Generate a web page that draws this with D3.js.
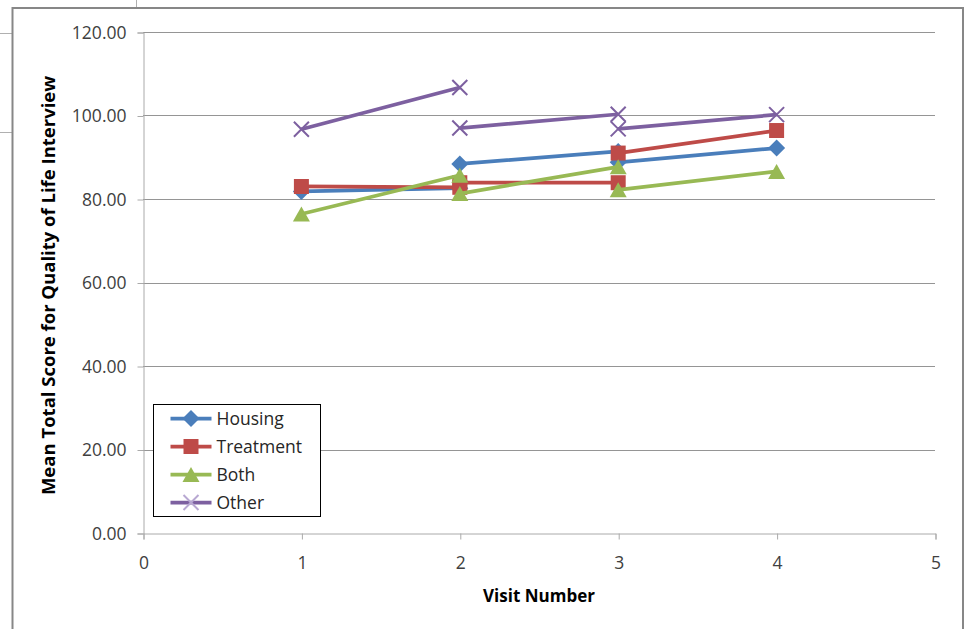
<!DOCTYPE html>
<html>
<head>
<meta charset="utf-8">
<script src="https://cdn.jsdelivr.net/npm/d3@7"></script>
<style>
  body { margin: 0; background: #fff; }
  svg { display: block; font-family: "Open Sans", "Noto Sans", sans-serif; }
</style>
</head>
<body>
<div id="chart"></div>
<script>
// Each series is three separate visit-to-visit segments (null = gap)
const visitX = [1, 2, null, 2, 3, null, 3, 4];
const housing = [81.8, 82.6, null, 88.4, 91.4, null, 88.8, 92.2];
const treatment = [83.0, 82.8, null, 83.9, 83.9, null, 91.0, 96.4];
const both = [76.4, 85.7, null, 81.3, 87.7, null, 82.2, 86.6];
const other = [96.7, 106.7, null, 97.0, 100.3, null, 96.8, 100.2];

const seriesNames = ["Housing", "Treatment", "Both", "Other"];
const yTicks = [0, 20, 40, 60, 80, 100, 120];
const xTicks = [0, 1, 2, 3, 4, 5];

const series = [
    { name: seriesNames[0], values: housing, color: "#4A7EBB", marker: "diamond" },
    { name: seriesNames[1], values: treatment, color: "#BE4B48", marker: "square" },
    { name: seriesNames[2], values: both, color: "#98B954", marker: "triangle" },
    { name: seriesNames[3], values: other, color: "#7D60A0", marker: "x" }
];

const W = 964, H = 629;
const plot = { left: 143, right: 935, top: 32, bottom: 533 };

const svg = d3.select("#chart").append("svg")
    .attr("width", W)
    .attr("height", H);

// spreadsheet cell lines behind the chart object
svg.append("g")
    .attr("stroke", "#b0b0b0")
    .attr("stroke-width", 1)
    .selectAll("line")
    .data([[136.5, 0, 136.5, 8], [0, 33.5, 12, 33.5], [0, 132.5, 12, 132.5]])
    .join("line")
    .attr("x1", d => d[0]).attr("y1", d => d[1])
    .attr("x2", d => d[2]).attr("y2", d => d[3]);

// chart frame
svg.append("rect")
    .attr("x", 12.5)
    .attr("y", 8)
    .attr("width", 950.5)
    .attr("height", H + 10)
    .attr("fill", "#fff")
    .attr("stroke", "#878787")
    .attr("stroke-width", 2);

const x = d3.scaleLinear().domain([0, 5]).range([plot.left, plot.right]);
const y = d3.scaleLinear().domain([0, 120]).range([plot.bottom, plot.top]);

// Gridlines
svg.append("g")
    .selectAll("line")
    .data(yTicks.filter(v => v > 0))
    .join("line")
    .attr("x1", plot.left)
    .attr("x2", plot.right)
    .attr("y1", d => Math.round(y(d)) + 0.5)
    .attr("y2", d => Math.round(y(d)) + 0.5)
    .attr("stroke", "#959595")
    .attr("stroke-width", 1);

// Axes
const yAxis = svg.append("g")
    .attr("transform", `translate(${plot.left + 0.5},0.5)`)
    .call(d3.axisLeft(y).tickValues(yTicks).tickFormat(d3.format(".2f")).tickSize(6).tickPadding(11));

const xAxis = svg.append("g")
    .attr("transform", `translate(0.5,${plot.bottom + 0.5})`)
    .call(d3.axisBottom(x).tickValues(xTicks).tickFormat(d3.format("d")).tickSize(6).tickPadding(17));

[yAxis, xAxis].forEach(g => {
    g.select(".domain").attr("stroke", "#aaaaaa");
    g.selectAll(".tick line").attr("stroke", "#aaaaaa");
    g.selectAll(".tick text")
        .attr("fill", "#404040")
        .style("font-size", "17.5px")
        .style("font-family", "'Open Sans', sans-serif");
});

// Axis titles
svg.append("text")
    .attr("transform", `translate(55,${(plot.top + plot.bottom) / 2 + 3}) rotate(-90)`)
    .attr("text-anchor", "middle")
    .style("font-size", "18.5px")
    .style("font-weight", "bold")
    .attr("fill", "#000")
    .text("Mean Total Score for Quality of Life Interview");

svg.append("text")
    .attr("x", (plot.left + plot.right) / 2)
    .attr("y", 602)
    .attr("text-anchor", "middle")
    .style("font-size", "17px")
    .style("font-weight", "bold")
    .attr("fill", "#000")
    .text("Visit Number");

// Marker shapes
function markerPath(type) {
    const p = d3.path();
    if (type === "diamond") {
        const r = 8.5;
        p.moveTo(0, -r); p.lineTo(r, 0); p.lineTo(0, r); p.lineTo(-r, 0); p.closePath();
    } else if (type === "square") {
        const r = 7.5;
        p.rect(-r, -r, 2 * r, 2 * r);
    } else if (type === "triangle") {
        const w = 8.5, h = 7.5;
        p.moveTo(0, -h); p.lineTo(w, h); p.lineTo(-w, h); p.closePath();
    } else {
        const r = 7.5;
        p.moveTo(-r, -r); p.lineTo(r, r);
        p.moveTo(r, -r); p.lineTo(-r, r);
    }
    return p.toString();
}

function drawMarker(g, type, color) {
    const m = g.append("path").attr("d", markerPath(type));
    if (type === "x") {
        m.attr("fill", "none").attr("stroke", color).attr("stroke-width", 2);
    } else {
        m.attr("fill", color).attr("stroke", "none");
    }
    return m;
}

const line = d3.line()
    .defined((d, i) => d !== null && visitX[i] !== null)
    .x((d, i) => x(visitX[i]))
    .y(d => y(d));

// Series
series.forEach(s => {
    const g = svg.append("g");
    g.append("path")
        .datum(s.values)
        .attr("fill", "none")
        .attr("stroke", s.color)
        .attr("stroke-width", 3.75)
        .attr("stroke-linejoin", "round")
        .attr("d", line);

    s.values.forEach((v, i) => {
        if (v === null || visitX[i] === null) return;
        const mg = g.append("g").attr("transform", `translate(${x(visitX[i])},${y(v)})`);
        drawMarker(mg, s.marker, s.color);
    });
});

// Legend
const legend = svg.append("g").attr("transform", "translate(153.5,404.5)");
legend.append("rect")
    .attr("width", 167)
    .attr("height", 112)
    .attr("fill", "#fff")
    .attr("stroke", "#000")
    .attr("stroke-width", 1);

series.forEach((s, i) => {
    const row = legend.append("g").attr("transform", `translate(0,${14 + i * 28})`);
    row.append("line")
        .attr("x1", 17).attr("x2", 58)
        .attr("stroke", s.color)
        .attr("stroke-width", 3.75);
    const mg = row.append("g").attr("transform", "translate(37.5,0)");
    drawMarker(mg, s.marker, s.marker === "x" ? "#B8A8D2" : s.color);
    row.append("text")
        .attr("x", 63)
        .attr("dy", "0.36em")
        .style("font-size", "17.5px")
        .attr("fill", "#262626")
        .text(s.name);
});
</script>
</body>
</html>
